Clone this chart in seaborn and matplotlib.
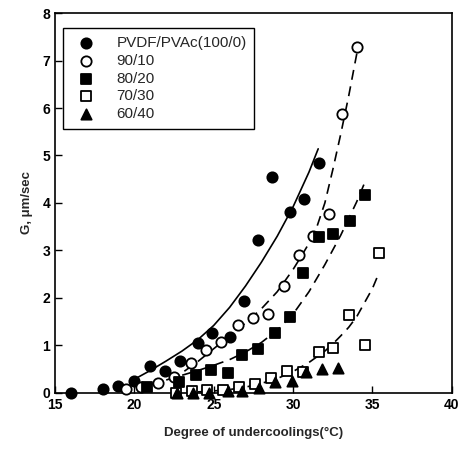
import matplotlib
matplotlib.use("Agg")
import matplotlib.pyplot as plt
import numpy as np
import pandas as pd
import seaborn as sns

x_100 = [16.0, 18.0, 19.0, 20.0, 21.0, 21.9, 22.9, 24.0, 24.9, 26.0, 26.9, 27.8, 28.7, 29.8, 30.7, 31.6]
g_100 = [0.0, 0.08, 0.15, 0.24, 0.57, 0.45, 0.68, 1.05, 1.26, 1.17, 1.93, 3.23, 4.54, 3.81, 4.08, 4.84]

x_90 = [19.45, 20.4, 21.5, 22.5, 23.56, 24.5, 25.46, 26.5, 27.47, 28.4, 29.43, 30.4, 31.27, 32.26, 33.06, 34.0]
g_90 = [0.08, 0.13, 0.2, 0.33, 0.63, 0.9, 1.08, 1.42, 1.58, 1.67, 2.26, 2.9, 3.3, 3.76, 5.88, 7.29]

x_80 = [20.8, 22.8, 23.9, 24.83, 25.9, 26.8, 27.8, 28.84, 29.8, 30.6, 31.6, 32.5, 33.6, 34.5]
g_80 = [0.13, 0.22, 0.38, 0.49, 0.42, 0.8, 0.92, 1.26, 1.6, 2.53, 3.29, 3.34, 3.62, 4.16]

x_70 = [22.6, 23.6, 24.6, 25.6, 26.6, 27.6, 28.6, 29.6, 30.6, 31.6, 32.5, 33.5, 34.5, 35.4]
g_70 = [0.0, 0.03, 0.06, 0.05, 0.12, 0.19, 0.31, 0.45, 0.43, 0.87, 0.94, 1.65, 1.0, 2.95]

x_60 = [22.7, 23.7, 24.7, 25.9, 26.8, 27.85, 28.84, 29.9, 30.84, 31.8, 32.8]
g_60 = [0.0, 0.0, 0.0, 0.03, 0.03, 0.1, 0.22, 0.24, 0.44, 0.51, 0.52]

# fitted curves
cx_100 = [19.8, 21.0, 22.0, 23.0, 24.0, 25.0, 26.0, 27.0, 28.0, 29.0, 30.0, 31.0, 31.58]
cg_100 = [0.25, 0.47, 0.67, 0.88, 1.12, 1.42, 1.8, 2.25, 2.75, 3.3, 3.92, 4.65, 5.14]

cx_90 = [20.2, 21.0, 22.0, 23.0, 24.0, 25.0, 26.0, 27.0, 28.0, 29.0, 30.0, 30.5, 31.0, 31.5,
         32.0, 32.5, 33.0, 33.5, 34.1]
cg_90 = [0.1, 0.17, 0.27, 0.42, 0.66, 0.93, 1.2, 1.47, 1.77, 2.13, 2.6, 2.87, 3.15, 3.5,
         4.0, 4.7, 5.45, 6.25, 7.3]

cx_80 = [21.0, 22.0, 23.0, 24.0, 25.0, 26.0, 27.0, 28.0, 29.0, 30.0, 31.0, 32.0, 33.0, 34.0, 34.5]
cg_80 = [0.17, 0.27, 0.37, 0.47, 0.58, 0.7, 0.86, 1.06, 1.32, 1.66, 2.13, 2.7, 3.32, 4.02, 4.42]

cx_70 = [24.0, 25.0, 26.0, 27.0, 28.0, 29.0, 30.0, 31.0, 32.0, 32.5, 33.0, 33.5, 34.0, 34.5, 35.0, 35.35]
cg_70 = [0.02, 0.04, 0.07, 0.12, 0.2, 0.3, 0.45, 0.64, 0.88, 1.03, 1.2, 1.38, 1.6, 1.9, 2.2, 2.48]

labels = ["PVDF/PVAc(100/0)", "90/10", "80/20", "70/30", "60/40"]

points = pd.concat([
    pd.DataFrame({"dT": x, "G": g, "blend": lab})
    for x, g, lab in zip([x_100, x_90, x_80, x_70, x_60],
                         [g_100, g_90, g_80, g_70, g_60], labels)
])
curves = pd.concat([
    pd.DataFrame({"dT": x, "G": g, "blend": lab})
    for x, g, lab in zip([cx_100, cx_90, cx_80, cx_70],
                         [cg_100, cg_90, cg_80, cg_70], labels[:4])
])

sns.set_style("ticks")
plt.rcParams["font.family"] = ["Liberation Sans", "DejaVu Sans"]

fig = plt.figure(figsize=(4.68, 4.5), dpi=100)
ax = fig.add_axes([0.1175, 0.127, 0.848, 0.844])

line_styles = {labels[0]: "-", labels[1]: (0, (6, 4)), labels[2]: (0, (6, 4)), labels[3]: (0, (6, 4))}
for lab in labels[:4]:
    sub = curves[curves["blend"] == lab]
    sns.lineplot(data=sub, x="dT", y="G", ax=ax, color="black", linewidth=1.2,
                 linestyle=line_styles[lab], sort=False, estimator=None, legend=False, zorder=2)

marker_styles = {
    labels[0]: ("o", "black"),
    labels[1]: ("o", "white"),
    labels[2]: ("s", "black"),
    labels[3]: ("s", "white"),
    labels[4]: ("^", "black"),
}
for lab in labels:
    sub = points[points["blend"] == lab]
    m, fc = marker_styles[lab]
    sns.scatterplot(data=sub, x="dT", y="G", ax=ax, marker=m, color=fc, edgecolor="black",
                    linewidth=1.3, s=55, label=lab, zorder=3, clip_on=False)

ax.set_xlim(15, 40)
ax.set_ylim(0, 8)
ax.set_xticks([15, 20, 25, 30, 35, 40])
ax.set_yticks(range(0, 9))
ax.tick_params(direction="in", length=5, width=1, labelsize=10, colors="black")
for t in ax.get_xticklabels() + ax.get_yticklabels():
    t.set_fontweight("bold")
for sp in ax.spines.values():
    sp.set_color("black")
    sp.set_linewidth(1.2)

ax.set_xlabel("Degree of undercoolings(°C)", fontsize=9.5, fontweight="bold", labelpad=11)
ax.set_ylabel("G, μm/sec", fontsize=9.5, fontweight="bold", labelpad=7)

leg = ax.legend(loc="upper left", bbox_to_anchor=(0.02, 0.96), fontsize=11, frameon=True,
                fancybox=False, edgecolor="black", framealpha=1, handletextpad=1.0,
                borderpad=0.5, labelspacing=0.25, borderaxespad=0)
leg.get_frame().set_linewidth(1.0)

fig.savefig("out.png", dpi=100)
